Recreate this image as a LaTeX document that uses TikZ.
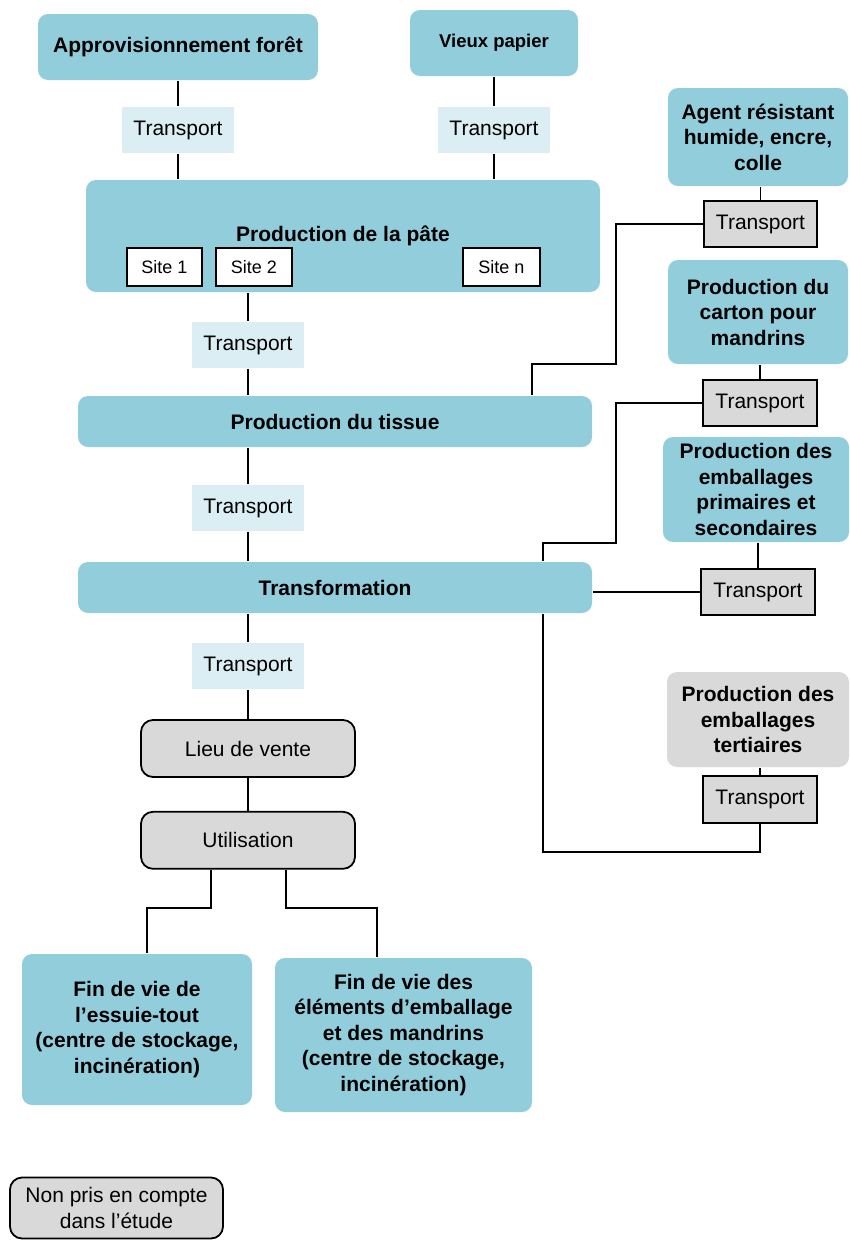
\documentclass[tikz,border=0pt]{standalone}
\usepackage{fontspec}
\setmainfont{Liberation Sans}
\usetikzlibrary{positioning}
\definecolor{aqua}{HTML}{92CDDC}
\definecolor{aqualight}{HTML}{DAEEF3}
\definecolor{greyfill}{HTML}{D9D9D9}
\newcommand{\txt}{\fontsize{21}{25.5}\selectfont}

\begin{document}
\begin{tikzpicture}[x=1pt, y=-1pt, line width=1.8pt,
  every node/.style={font=\txt, inner sep=2pt},
  stage/.style={rectangle, rounded corners=10pt, fill=aqua, font=\txt\bfseries, align=center},
  haul/.style={rectangle, fill=aqualight, minimum width=112pt, minimum height=46pt},
  haulout/.style={rectangle, draw, fill=greyfill, minimum width=114pt, minimum height=46pt},
  outside/.style={rectangle, draw, fill=greyfill, rounded corners=12pt, align=center},
  site/.style={rectangle, draw, fill=white, minimum height=38pt, font=\fontsize{18}{20}\selectfont}]
	\useasboundingbox (0,0) rectangle (849,1240);

	% main chain
	\node[stage, minimum width=280pt, minimum height=66pt] (foret) at (178,47) {Approvisionnement forêt};
	\node[stage, minimum width=168pt, minimum height=66pt, font=\fontsize{18.5}{22}\selectfont\bfseries] (papier) at (494,43) {Vieux papier};
	\node[haul] (t1) at (178,130) {Transport};
	\node[haul] (t2) at (494,130) {Transport};
	\node[stage, minimum width=514pt, minimum height=112pt] (pate) at (343,236) {Production de la pâte};
	\node[site, minimum width=75pt] (site1) at (164.5,267) {Site 1};
	\node[site, minimum width=76pt, right=12pt of site1] (site2) {Site 2};
	\node[site, minimum width=77pt] (siten) at (501.5,267) {Site n};
	\node[haul] (t3) at (248,345) {Transport};
	\node[stage, minimum width=514pt, minimum height=51pt] (tissue) at (335,421.5) {Production du tissue};
	\node[haul] (t4) at (248,508) {Transport};
	\node[stage, minimum width=514pt, minimum height=51pt] (transfo) at (335,587.5) {Transformation};
	\node[haul] (t5) at (248,666) {Transport};
	\node[outside, minimum width=214pt, minimum height=57pt] (vente) at (248,748.5) {Lieu de vente};
	\node[outside, minimum width=214pt, minimum height=57pt, below=33pt of vente] (usage) {Utilisation};
	\node[stage, minimum width=230pt, minimum height=151pt] (fin1) at (137,1029.5) {Fin de vie de\\l’essuie-tout\\(centre de stockage,\\incinération)};
	\node[stage, minimum width=257pt, minimum height=154pt] (fin2) at (403.5,1035) {Fin de vie des\\éléments d’emballage\\et des mandrins\\(centre de stockage,\\incinération)};
	\node[outside, minimum width=213pt, minimum height=61pt] (legende) at (116.5,1208) {Non pris en compte\\dans l’étude};

	% side inputs
	\node[stage, minimum width=180pt, minimum height=98pt] (agent) at (758,137) {Agent résistant\\humide, encre,\\colle};
	\node[haulout, minimum width=113pt] (ta) at (760.5,224) {Transport};
	\node[stage, minimum width=180pt, minimum height=104pt] (carton) at (758,312) {Production du\\carton pour\\mandrins};
	\node[haulout] (tb) at (760,403) {Transport};
	\node[stage, minimum width=186pt, minimum height=105pt] (emball) at (756,489.5) {Production des\\emballages\\primaires et\\secondaires};
	\node[haulout] (tc) at (758,592) {Transport};
	\node[stage, fill=greyfill, minimum width=182pt, minimum height=95pt] (tert) at (758,719.5) {Production des\\emballages\\tertiaires};
	\node[haulout, minimum height=47pt] (td) at (760,799.5) {Transport};

	\coordinate (ja) at (616,364);
	\coordinate (ja2) at (532,364);
	\coordinate (jb) at (616,543);
	\coordinate (jb2) at (543,543);
	\coordinate (jd) at (543,852);
	\coordinate (ju) at (211,908);
	\coordinate (ju2) at (147,908);
	\coordinate (jv) at (286,908);
	\coordinate (jv2) at (377,908);

	\draw (foret) -- (t1) -- (t1 |- pate.north);
	\draw (papier) -- (t2) -- (t2 |- pate.north);
	\draw (t3 |- pate.south) -- (t3) -- (t3 |- tissue.north);
	\draw (t4 |- tissue.south) -- (t4) -- (t4 |- transfo.north);
	\draw (t5 |- transfo.south) -- (t5) -- (vente);
	\draw (vente) -- (usage);
	\draw (ju |- usage.south) -- (ju) -- (ju2) -- (ju2 |- fin1.north);
	\draw (jv |- usage.south) -- (jv) -- (jv2) -- (jv2 |- fin2.north);

	\draw (ta |- agent.south) -- (ta);
	\draw (ta.west) -| (ja) -- (ja2) -- (ja2 |- tissue.north);
	\draw (tb |- carton.south) -- (tb);
	\draw (tb.west) -| (jb) -- (jb2) -- (jb2 |- transfo.north);
	\draw (tc |- emball.south) -- (tc);
	\draw (tc.west) -- (tc.west -| transfo.east);
	\draw (td |- tert.south) -- (td);
	\draw (jd |- transfo.south) -- (jd) -| (td.south);
\end{tikzpicture}
\end{document}
